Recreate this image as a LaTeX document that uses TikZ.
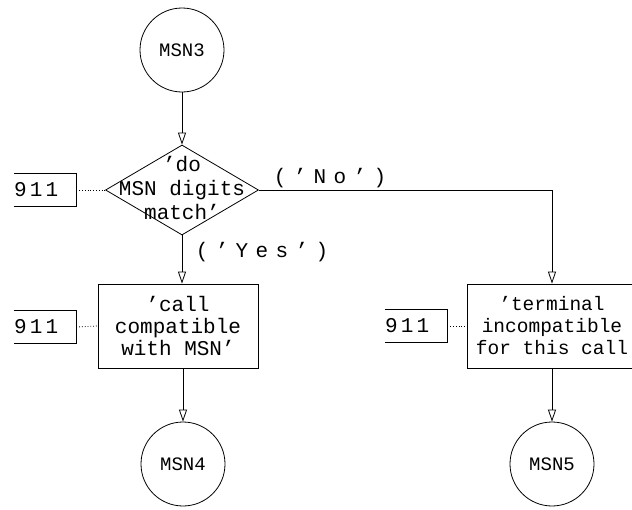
\documentclass[tikz,border=0pt]{standalone}
\usepackage{fontspec}
\setmainfont{Liberation Mono}
\usetikzlibrary{shapes.geometric,arrows.meta}
\tikzset{
 base/.style={draw, line width=0.8pt, inner sep=0pt},
 conn/.style={circle, base, minimum size=84pt, font=\fontsize{19}{21}\selectfont},
 dec/.style={diamond, draw, line width=0.8pt, minimum width=153pt, minimum height=90pt, inner sep=0pt},
 proc/.style={rectangle, base, align=center, minimum height=84pt, font=\fontsize{21}{22}\selectfont},
 txt/.style={font=\fontsize{21}{24}\selectfont, align=center, inner sep=0pt},
 flow/.style={draw, line width=0.8pt, -{Triangle[open,length=12pt,width=8pt]}},
 dots/.style={draw, line width=0.8pt, dotted},
 refbox/.style={font=\fontsize{21}{24}\selectfont\addfontfeature{LetterSpace=15}, inner sep=0pt, anchor=west, text width=62pt, align=left, minimum height=32pt},
 refline/.style={draw, line width=0.8pt},
 lab/.style={font=\fontsize{21}{24}\selectfont\addfontfeature{LetterSpace=35}, inner sep=0pt},
}
\begin{document}
\begin{tikzpicture}[x=1pt,y=-1pt]
\useasboundingbox (0,0) rectangle (632,509);
\node[conn] (m3) at (182,50) {MSN3};
\node[dec] (d) at (182,190) {};
\node[txt] (dt) at (182,188) {'do\\MSN digits\\match'};
\node[proc, minimum width=160pt] (c) at (178,326) {'call\\compatible\\with MSN'};
\node[proc, minimum width=170pt, font=\fontsize{19.5}{22}\selectfont] (t) at (552,326) {'terminal\\incompatible\\for this call};
\node[conn] (m4) at (183,464) {MSN4};
\node[conn] (m5) at (552,464) {MSN5};
\node[refbox] (r1) at (14,190) {911};
\node[refbox] (r2) at (14,327) {911};
\node[refbox] (r3) at (385,326) {911};
\foreach \r in {r1,r2,r3}
  \draw[refline] (\r.north west) -- (\r.north east) -- (\r.south east) -- (\r.south west);
\node[lab] (no) at (330,178) {('No')};
\node[lab] (yes) at (262,252) {('Yes')};
\draw[flow] (m3) -- (d);
\draw[flow] (d.south) -- (d.south |- c.north);
\draw[flow] (d.east) -| (t.north);
\draw[flow] (m4.north |- c.south) -- (m4.north);
\draw[flow] (t) -- (m5);
\draw[dots] (r1.east) -- (d.west);
\draw[dots] (r2.east) -- (c.west);
\draw[dots] (r3.east) -- (t.west);
\end{tikzpicture}
\end{document}
